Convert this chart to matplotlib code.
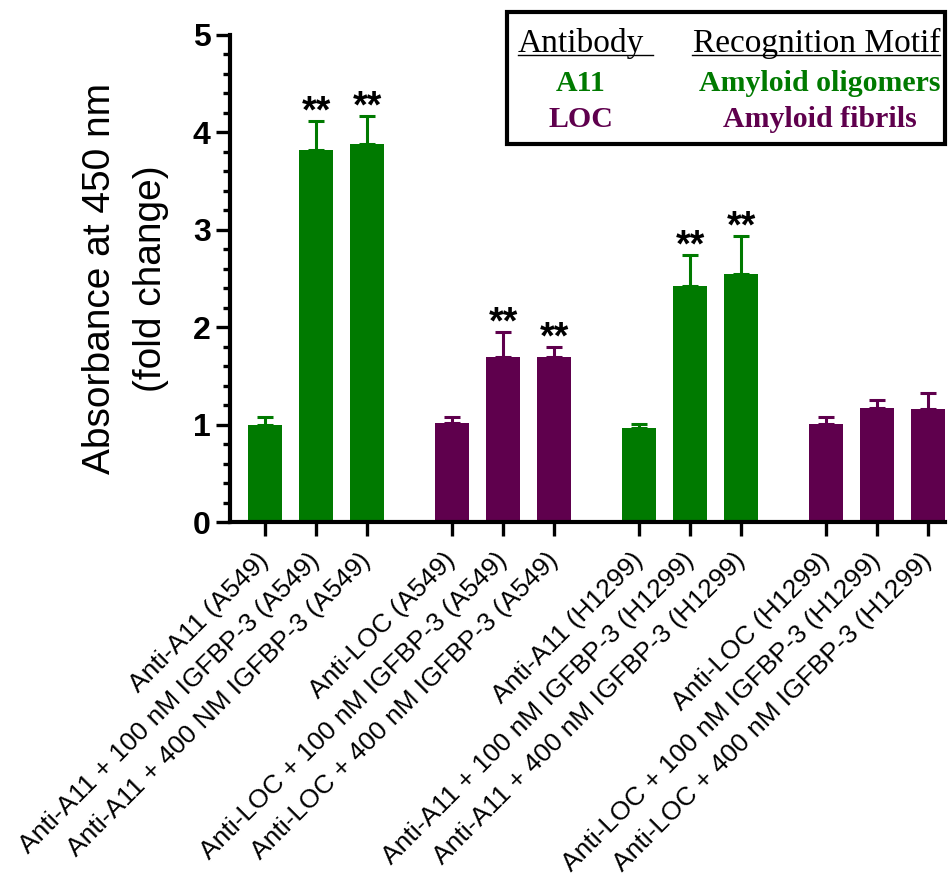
import numpy as np
import matplotlib
matplotlib.use('Agg')
import matplotlib.pyplot as plt
from matplotlib.patches import Rectangle
from matplotlib.lines import Line2D
from matplotlib.ticker import MultipleLocator

plt.rcParams['font.family'] = ['Liberation Sans', 'DejaVu Sans']

# data
labels = ['Anti-A11 (A549)', 'Anti-A11 + 100 nM IGFBP-3 (A549)', 'Anti-A11 + 400 NM IGFBP-3 (A549)',
          'Anti-LOC (A549)', 'Anti-LOC + 100 nM IGFBP-3 (A549)', 'Anti-LOC + 400 nM IGFBP-3 (A549)',
          'Anti-A11 (H1299)', 'Anti-A11 + 100 nM IGFBP-3 (H1299)', 'Anti-A11 + 400 nM IGFBP-3 (H1299)',
          'Anti-LOC (H1299)', 'Anti-LOC + 100 nM IGFBP-3 (H1299)', 'Anti-LOC + 400 nM IGFBP-3 (H1299)']
means = [1.00, 3.82, 3.885, 1.02, 1.69, 1.69, 0.96, 2.42, 2.55, 1.01, 1.17, 1.16]
errs = [0.08, 0.30, 0.285, 0.06, 0.26, 0.11, 0.05, 0.32, 0.39, 0.07, 0.08, 0.16]
antibody = ['A11', 'A11', 'A11', 'LOC', 'LOC', 'LOC', 'A11', 'A11', 'A11', 'LOC', 'LOC', 'LOC']
signif = [False, True, True, False, True, True, False, True, True, False, False, False]

green = '#007a00'
purple = '#5f004d'
col_map = {'A11': green, 'LOC': purple}
colors = [col_map[a] for a in antibody]

# three bars per group, a wider gap between groups
pos = np.array([i + (i // 3) * (2 / 3) for i in range(len(means))])

fig = plt.figure(figsize=(9.5, 8.8), dpi=100)
ax = fig.add_axes([230 / 950, 1 - 522 / 880, 715 / 950, 487 / 880])

ax.bar(pos, means, width=0.667, color=colors, zorder=2)
for x, m, e, c in zip(pos, means, errs, colors):
    ax.errorbar(x, m, yerr=[[0], [e]], fmt='none', ecolor=c, elinewidth=2.2,
                capsize=6, capthick=2.2, zorder=1)

for x, m, e, s in zip(pos, means, errs, signif):
    if s:
        ax.annotate('**', xy=(x, m + e), xytext=(0, -1), textcoords='offset points',
                    ha='center', va='baseline', fontsize=27, fontweight='bold')

ax.set_xlim(-0.686, 13.33)
ax.set_ylim(0, 5)
ax.yaxis.set_major_locator(MultipleLocator(1))
ax.yaxis.set_minor_locator(MultipleLocator(0.2))
ax.set_xticks(pos)
ax.set_xticklabels(labels, rotation=45, ha='right', va='center', rotation_mode='anchor', fontsize=19)
for t in ax.get_yticklabels():
    t.set_fontweight('bold')
ax.tick_params(axis='y', which='major', labelsize=23, width=2.4, length=10, pad=4)
ax.tick_params(axis='y', which='minor', width=2.4, length=5)
ax.tick_params(axis='x', width=2.4, length=10, pad=15)

for side in ['top', 'right']:
    ax.spines[side].set_visible(False)
for side in ['left', 'bottom']:
    ax.spines[side].set_linewidth(3)

ax.set_ylabel('Absorbance at 450 nm\n(fold change)', fontsize=28, linespacing=1.55)
ax.yaxis.set_label_coords(-0.085, 0.5)

# legend box with a small table
def fx(px):
    return px / 950

def fy(py):
    return 1 - py / 880

fig.patches.append(Rectangle((fx(507), fy(144)), fx(945) - fx(507), fy(12) - fy(144),
                             transform=fig.transFigure, fill=False, edgecolor='black', linewidth=3))
serif = ['Liberation Serif', 'DejaVu Serif']
fig.text(fx(581), fy(52), 'Antibody', ha='center', va='baseline', fontsize=24, family=serif)
fig.text(fx(817), fy(52), 'Recognition Motif', ha='center', va='baseline', fontsize=24, family=serif)
fig.lines.append(Line2D([fx(518), fx(653)], [fy(55), fy(55)], transform=fig.transFigure,
                        color='black', linewidth=1))
fig.lines.append(Line2D([fx(692), fx(940)], [fy(55), fy(55)], transform=fig.transFigure,
                        color='black', linewidth=1))
rows = [('A11', 'Amyloid oligomers', green), ('LOC', 'Amyloid fibrils', purple)]
for k, (ab, motif, c) in enumerate(rows):
    yb = 91 + k * 36
    fig.text(fx(581), fy(yb), ab, ha='center', va='baseline', fontsize=21.5,
             fontweight='bold', color=c, family=serif)
    fig.text(fx(820), fy(yb), motif, ha='center', va='baseline', fontsize=21.5,
             fontweight='bold', color=c, family=serif)

fig.savefig('out.png', dpi=100)
